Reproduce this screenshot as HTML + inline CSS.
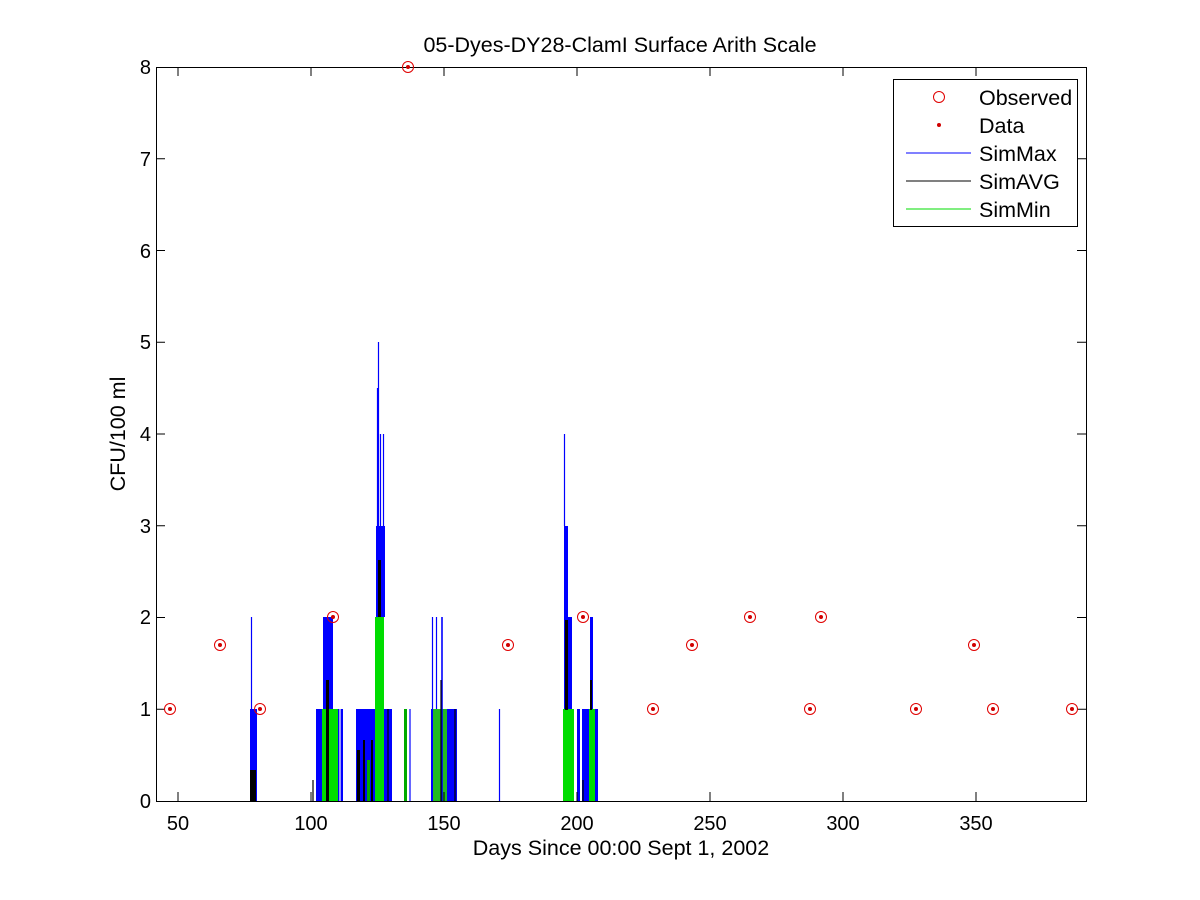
<!DOCTYPE html>
<html><head><style>body{margin:0;background:#fff}svg{display:block}text{font-family:"Liberation Sans",Arial,sans-serif;fill:#000}</style></head>
<body>
<svg width="1200" height="900" xmlns="http://www.w3.org/2000/svg">
<rect width="1200" height="900" fill="#fff"/>
<g stroke-width="1.2">
<rect x="250" y="709" width="7" height="92" fill="#0000ff"/>
<line x1="251.5" y1="617" x2="251.5" y2="801" stroke="#0000ff"/>
<rect x="250" y="770" width="6" height="31" fill="#000"/>
<rect x="316" y="709" width="27" height="92" fill="#0000ff"/>
<rect x="323" y="617" width="10" height="92" fill="#0000ff"/>
<rect x="322" y="709" width="16" height="92" fill="#00dd00"/>
<rect x="326" y="680" width="3" height="121" fill="#000"/>
<line x1="313" y1="780" x2="313" y2="801" stroke="#000"/>
<line x1="340" y1="709" x2="340" y2="801" stroke="#fff"/>
<rect x="356" y="709" width="36" height="92" fill="#0000ff"/>
<rect x="357" y="750" width="3" height="51" fill="#000"/>
<rect x="363" y="740" width="2" height="61" fill="#000"/>
<rect x="367" y="760" width="3" height="41" fill="#00aa00"/>
<rect x="371" y="740" width="2" height="61" fill="#000"/>
<rect x="375" y="617" width="9" height="184" fill="#00dd00"/>
<rect x="376" y="526" width="9" height="91" fill="#0000ff"/>
<rect x="378" y="560" width="3" height="57" fill="#000"/>
<line x1="378.5" y1="342" x2="378.5" y2="526" stroke="#0000ff"/>
<line x1="377.5" y1="388" x2="377.5" y2="526" stroke="#0000ff"/>
<line x1="380.5" y1="434" x2="380.5" y2="526" stroke="#0000ff"/>
<line x1="383.5" y1="434" x2="383.5" y2="526" stroke="#0000ff"/>
<line x1="388" y1="709" x2="388" y2="801" stroke="#000"/>
<rect x="404" y="709" width="3" height="92" fill="#00aa00"/>
<line x1="410" y1="709" x2="410" y2="801" stroke="#0000ff"/>
<rect x="431" y="709" width="26" height="92" fill="#0000ff"/>
<rect x="433" y="709" width="14" height="92" fill="#22bb22"/>
<line x1="432.5" y1="617" x2="432.5" y2="709" stroke="#0000ff"/>
<line x1="436.5" y1="617" x2="436.5" y2="709" stroke="#0000ff"/>
<line x1="442" y1="617" x2="442" y2="801" stroke="#0000ff" stroke-width="1.6"/>
<line x1="441" y1="680" x2="441" y2="801" stroke="#000"/>
<line x1="455" y1="709" x2="455" y2="801" stroke="#000"/>
<line x1="499.5" y1="709" x2="499.5" y2="801" stroke="#0000ff"/>
<rect x="563" y="709" width="11" height="92" fill="#00dd00"/>
<rect x="564" y="617" width="8" height="92" fill="#0000ff"/>
<rect x="564" y="526" width="4" height="91" fill="#0000ff"/>
<rect x="565" y="620" width="3" height="90" fill="#000"/>
<line x1="564.5" y1="434" x2="564.5" y2="526" stroke="#0000ff"/>
<rect x="577" y="709" width="21" height="92" fill="#0000ff"/>
<rect x="580" y="709" width="2" height="92" fill="#fff"/>
<rect x="589" y="709" width="6" height="92" fill="#00dd00"/>
<rect x="590" y="617" width="3" height="92" fill="#0000ff"/>
<rect x="590" y="680" width="2" height="30" fill="#000"/>
<line x1="583" y1="780" x2="583" y2="801" stroke="#000"/>
</g>
<rect x="156.5" y="67.5" width="930" height="734" fill="none" stroke="#000" stroke-width="1"/>
<g stroke="#000" stroke-width="1">
<line x1="178" y1="801" x2="178" y2="792"/><line x1="178" y1="67" x2="178" y2="76"/>
<line x1="311" y1="801" x2="311" y2="792"/><line x1="311" y1="67" x2="311" y2="76"/>
<line x1="444" y1="801" x2="444" y2="792"/><line x1="444" y1="67" x2="444" y2="76"/>
<line x1="577" y1="801" x2="577" y2="792"/><line x1="577" y1="67" x2="577" y2="76"/>
<line x1="710" y1="801" x2="710" y2="792"/><line x1="710" y1="67" x2="710" y2="76"/>
<line x1="843" y1="801" x2="843" y2="792"/><line x1="843" y1="67" x2="843" y2="76"/>
<line x1="976" y1="801" x2="976" y2="792"/><line x1="976" y1="67" x2="976" y2="76"/>
<line x1="156" y1="709.25" x2="165" y2="709.25"/><line x1="1086" y1="709.25" x2="1077" y2="709.25"/>
<line x1="156" y1="617.5" x2="165" y2="617.5"/><line x1="1086" y1="617.5" x2="1077" y2="617.5"/>
<line x1="156" y1="525.75" x2="165" y2="525.75"/><line x1="1086" y1="525.75" x2="1077" y2="525.75"/>
<line x1="156" y1="434" x2="165" y2="434"/><line x1="1086" y1="434" x2="1077" y2="434"/>
<line x1="156" y1="342.25" x2="165" y2="342.25"/><line x1="1086" y1="342.25" x2="1077" y2="342.25"/>
<line x1="156" y1="250.5" x2="165" y2="250.5"/><line x1="1086" y1="250.5" x2="1077" y2="250.5"/>
<line x1="156" y1="158.75" x2="165" y2="158.75"/><line x1="1086" y1="158.75" x2="1077" y2="158.75"/>
</g>
<g fill="none" stroke="#e00000" stroke-width="1">
<circle cx="170" cy="709" r="5.5"/><circle cx="220" cy="645" r="5.5"/><circle cx="260" cy="709" r="5.5"/><circle cx="333" cy="617" r="5.5"/>
<circle cx="408" cy="67" r="5.5"/><circle cx="508" cy="645" r="5.5"/><circle cx="583" cy="617" r="5.5"/><circle cx="653" cy="709" r="5.5"/>
<circle cx="692" cy="645" r="5.5"/><circle cx="750" cy="617" r="5.5"/><circle cx="810" cy="709" r="5.5"/><circle cx="821" cy="617" r="5.5"/>
<circle cx="916" cy="709" r="5.5"/><circle cx="974" cy="645" r="5.5"/><circle cx="993" cy="709" r="5.5"/><circle cx="1072" cy="709" r="5.5"/>
</g>
<g fill="#d00000">
<circle cx="170" cy="709" r="2"/><circle cx="220" cy="645" r="2"/><circle cx="260" cy="709" r="2"/><circle cx="333" cy="617" r="2"/>
<circle cx="408" cy="67" r="2"/><circle cx="508" cy="645" r="2"/><circle cx="583" cy="617" r="2"/><circle cx="653" cy="709" r="2"/>
<circle cx="692" cy="645" r="2"/><circle cx="750" cy="617" r="2"/><circle cx="810" cy="709" r="2"/><circle cx="821" cy="617" r="2"/>
<circle cx="916" cy="709" r="2"/><circle cx="974" cy="645" r="2"/><circle cx="993" cy="709" r="2"/><circle cx="1072" cy="709" r="2"/>
</g>
<g font-size="20" text-anchor="middle">
<text x="178" y="830">50</text><text x="311" y="830">100</text><text x="444" y="830">150</text><text x="577" y="830">200</text>
<text x="710" y="830">250</text><text x="843" y="830">300</text><text x="976" y="830">350</text>
</g>
<g font-size="20" text-anchor="end">
<text x="151" y="808">0</text><text x="151" y="716">1</text><text x="151" y="624">2</text><text x="151" y="533">3</text>
<text x="151" y="441">4</text><text x="151" y="349">5</text><text x="151" y="258">6</text><text x="151" y="166">7</text><text x="151" y="74">8</text>
</g>
<text x="621" y="855" font-size="21.5" text-anchor="middle">Days Since 00:00 Sept 1, 2002</text>
<text x="0" y="0" font-size="21.5" text-anchor="middle" transform="translate(125,434) rotate(-90)">CFU/100 ml</text>
<text x="620" y="52" font-size="21.5" text-anchor="middle">05-Dyes-DY28-ClamI Surface Arith Scale</text>
<rect x="893.5" y="79.5" width="184" height="147" fill="#fff" stroke="#000"/>
<circle cx="939" cy="97" r="5.5" fill="none" stroke="#e00000"/>
<circle cx="939" cy="125" r="2" fill="#d00000"/>
<line x1="906" y1="153" x2="971" y2="153" stroke="#0000ff"/>
<line x1="906" y1="181" x2="971" y2="181" stroke="#000"/>
<line x1="906" y1="209" x2="971" y2="209" stroke="#00dd00"/>
<g font-size="21.5">
<text x="979" y="105">Observed</text><text x="979" y="133">Data</text><text x="979" y="161">SimMax</text>
<text x="979" y="189">SimAVG</text><text x="979" y="217">SimMin</text>
</g>
</svg>
</body></html>
